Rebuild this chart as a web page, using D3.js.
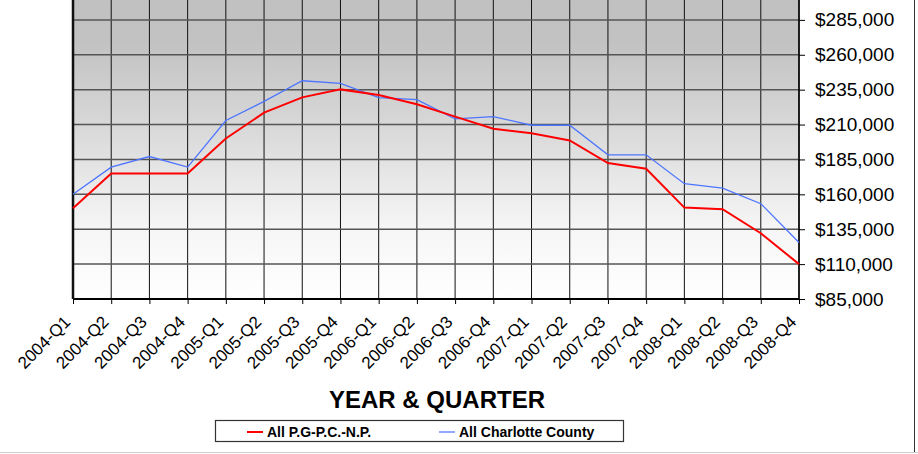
<!DOCTYPE html>
<html lang="en">
<head>
    <meta charset="UTF-8">
    <title></title>
    <script src="https://d3js.org/d3.v7.min.js"></script>
    <style>
        body { margin: 0; background: #fff; }
        text { font-family: "Liberation Sans", Arial, sans-serif; }
    </style>
</head>
<body>

<script>
    // quarters along the bottom, prices on the right
    var quarters = ["2004-Q1", "2004-Q2", "2004-Q3", "2004-Q4",
        "2005-Q1", "2005-Q2", "2005-Q3", "2005-Q4",
        "2006-Q1", "2006-Q2", "2006-Q3", "2006-Q4",
        "2007-Q1", "2007-Q2", "2007-Q3", "2007-Q4",
        "2008-Q1", "2008-Q2", "2008-Q3", "2008-Q4"];

    var pgpcnp = [150000, 175000, 175000, 175000,
        200000, 218500, 229500, 235200,
        231200, 224500, 215700, 207000,
        203800, 198600, 182400, 178300,
        150500, 149300, 132100, 110000];

    var charlotte = [160000, 179500, 187100, 179500,
        212900, 226600, 241400, 239500,
        229300, 227900, 214100, 215700,
        209500, 209500, 188300, 188300,
        167600, 164500, 153300, 125500];

    var yTicks = [85000, 110000, 135000, 160000, 185000, 210000, 235000, 260000, 285000];

    var width = 918,
            height = 454;

    var svg = d3.select("body").append("svg")
            .attr("width", width)
            .attr("height", height);

    // the plot runs above the top edge of the picture
    var plotLeft = 73, plotRight = 799, plotTop = -15, plotBottom = 299;

    var x = d3.scalePoint().domain(quarters).range([plotLeft, plotRight]);
    var y = d3.scaleLinear().domain([85000, 310000]).range([plotBottom, plotTop]);

    // plot background, grey at the top fading to white
    var grad = svg.append("defs").append("linearGradient")
            .attr("id", "bg")
            .attr("x1", 0).attr("y1", 0).attr("x2", 0).attr("y2", 1);
    grad.append("stop").attr("offset", "0").attr("stop-color", "#c0c0c0");
    grad.append("stop").attr("offset", "0.18").attr("stop-color", "#c2c2c2");
    grad.append("stop").attr("offset", "0.45").attr("stop-color", "#d8d8d8");
    grad.append("stop").attr("offset", "0.6").attr("stop-color", "#e6e6e6");
    grad.append("stop").attr("offset", "0.78").attr("stop-color", "#f6f6f6");
    grad.append("stop").attr("offset", "1").attr("stop-color", "#ffffff");

    svg.append("rect")
            .attr("x", plotLeft)
            .attr("y", plotTop)
            .attr("width", plotRight - plotLeft)
            .attr("height", plotBottom - plotTop)
            .attr("fill", "url(#bg)");

    // grid
    svg.append("g").selectAll("line")
            .data(quarters)
            .enter().append("line")
            .attr("x1", function (d) { return x(d); })
            .attr("x2", function (d) { return x(d); })
            .attr("y1", plotTop)
            .attr("y2", plotBottom)
            .attr("stroke", "#111")
            .attr("stroke-width", 1);

    svg.append("g").selectAll("line")
            .data(yTicks)
            .enter().append("line")
            .attr("x1", plotLeft)
            .attr("x2", plotRight)
            .attr("y1", function (d) { return y(d); })
            .attr("y2", function (d) { return y(d); })
            .attr("stroke", "#555")
            .attr("stroke-width", 1.5);

    // right axis
    var yAxis = d3.axisRight(y)
            .tickValues(yTicks)
            .tickSize(6)
            .tickPadding(10)
            .tickFormat(function (d) { return "$" + d3.format(",")(d); });

    var gy = svg.append("g")
            .attr("transform", "translate(" + plotRight + ",0)")
            .call(yAxis);
    gy.select(".domain").remove();
    gy.selectAll("line").attr("stroke", "#000");
    gy.selectAll("text")
            .attr("font-size", 19)
            .attr("fill", "#000")
            .style("font-family", "Liberation Sans, Arial, sans-serif");

    svg.append("line")
            .attr("x1", plotRight).attr("x2", plotRight)
            .attr("y1", plotTop).attr("y2", plotBottom)
            .attr("stroke", "#000")
            .attr("stroke-width", 1.5);

    // bottom axis
    var xAxis = d3.axisBottom(x).tickSize(5).tickSizeOuter(0);
    var gx = svg.append("g")
            .attr("transform", "translate(0," + plotBottom + ")")
            .call(xAxis);
    gx.select(".domain").remove();
    gx.selectAll("line").attr("stroke", "#000");
    gx.selectAll("text")
            .attr("font-size", 17)
            .attr("fill", "#000")
            .style("font-family", "Liberation Sans, Arial, sans-serif")
            .attr("text-anchor", "end")
            .attr("dy", null)
            .attr("y", 0)
            .attr("transform", "translate(-2,24) rotate(-45)");

    svg.append("line")
            .attr("x1", plotLeft).attr("x2", plotRight)
            .attr("y1", plotBottom).attr("y2", plotBottom)
            .attr("stroke", "#000")
            .attr("stroke-width", 2);

    svg.append("line")
            .attr("x1", plotLeft).attr("x2", plotLeft)
            .attr("y1", plotTop).attr("y2", plotBottom)
            .attr("stroke", "#111")
            .attr("stroke-width", 2.5);

    // series
    var line = d3.line()
            .x(function (d, i) { return x(quarters[i]); })
            .y(function (d) { return y(d); });

    svg.append("path")
            .datum(charlotte)
            .attr("fill", "none")
            .attr("stroke", "#4d75ff")
            .attr("stroke-width", 1.3)
            .attr("d", line);

    svg.append("path")
            .datum(pgpcnp)
            .attr("fill", "none")
            .attr("stroke", "#ff0000")
            .attr("stroke-width", 2)
            .attr("d", line);

    // axis title
    svg.append("text")
            .attr("x", 437)
            .attr("y", 408)
            .attr("text-anchor", "middle")
            .attr("font-size", 24)
            .attr("font-weight", "bold")
            .text("YEAR & QUARTER");

    // legend
    var legend = svg.append("g");
    legend.append("rect")
            .attr("x", 215.5)
            .attr("y", 420.5)
            .attr("width", 408)
            .attr("height", 21)
            .attr("fill", "#fff")
            .attr("stroke", "#333")
            .attr("stroke-width", 1.2);

    var legendItems = [
        {name: "All P.G-P.C.-N.P.", color: "#ff0000", x: 247},
        {name: "All Charlotte County", color: "#8faaff", x: 439}
    ];

    legendItems.forEach(function (d) {
        legend.append("line")
                .attr("x1", d.x).attr("x2", d.x + 16)
                .attr("y1", 432).attr("y2", 432)
                .attr("stroke", d.color)
                .attr("stroke-width", 2);
        legend.append("text")
                .attr("x", d.x + 20)
                .attr("y", 437)
                .attr("font-size", 14)
                .attr("font-weight", "bold")
                .text(d.name);
    });

    // outer frame
    svg.append("line")
            .attr("x1", 914.5).attr("x2", 914.5)
            .attr("y1", 0).attr("y2", 452)
            .attr("stroke", "#333")
            .attr("stroke-width", 1);
    svg.append("line")
            .attr("x1", 0).attr("x2", 918)
            .attr("y1", 452.5).attr("y2", 452.5)
            .attr("stroke", "#ccc")
            .attr("stroke-width", 1);
</script>

</body>
</html>
